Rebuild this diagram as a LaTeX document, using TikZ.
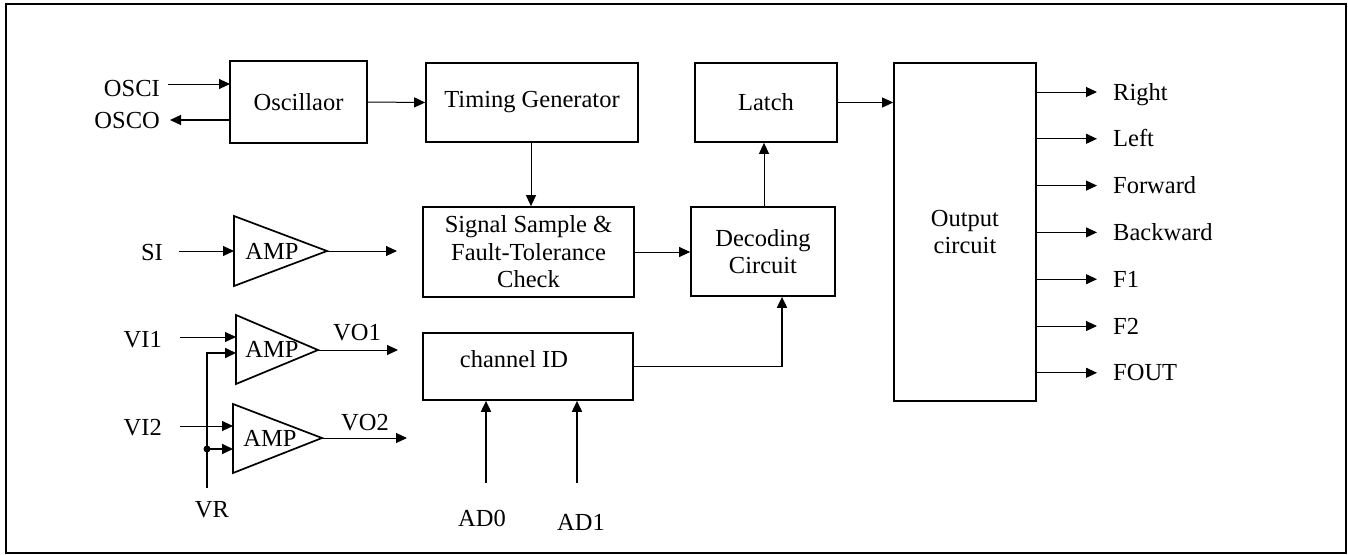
\documentclass[tikz,border=0pt]{standalone}
\usepackage{fontspec}
\setmainfont{Liberation Serif}
\usetikzlibrary{arrows.meta}

\begin{document}
\begin{tikzpicture}[x=1pt,y=-1pt,font=\fontsize{24.5}{27.5}\selectfont,
  blk/.style={draw,line width=1.7pt,inner sep=0pt,align=center},
  lbl/.style={inner sep=0pt,text height=16pt,text depth=0pt},
  wire/.style={-{Triangle[length=11pt,width=10pt]},line width=1pt},
  thk/.style={line width=1.8pt}]
\useasboundingbox (0,0) rectangle (1348,554);
\draw[line width=1.8pt] (6,4) rectangle (1346,553);

% blocks
\node[blk,minimum width=137pt,minimum height=82pt] (osc) at (298.5,102) {Oscillaor};
\node[blk,minimum width=212pt,minimum height=79pt] (tim) at (532,102.5) {Timing Generator};
\node[blk,minimum width=142pt,minimum height=79pt] (latch) at (766,102.5) {Latch};
\node[blk,minimum width=142pt,minimum height=338pt] (out) at (965,232) {Output\\circuit};
\node[blk,minimum width=211pt,minimum height=90pt] (samp) at (528.5,252) {Signal Sample \&\\Fault-Tolerance\\Check};
\node[blk,minimum width=144pt,minimum height=89pt] (dec) at (763,251.5) {Decoding\\Circuit};
\node[blk,minimum width=210pt,minimum height=67pt] (chan) at (528,366.5) {};
\node[lbl] (chantxt) at (514,359) {channel ID};

% amplifiers
\draw[line width=1.7pt] (234,216) -- (327,251) coordinate (a0o) -- (234,286) -- cycle;
\draw[line width=1.7pt] (236,315) -- (318,350) coordinate (a1o) -- (236,384) -- cycle;
\draw[line width=1.7pt] (233,404) -- (322,438) coordinate (a2o) -- (233,473) -- cycle;
\node[lbl] (amp0) at (272,251) {AMP};
\node[lbl] (amp1) at (272,349.5) {AMP};
\node[lbl] (amp2) at (270,438) {AMP};
\coordinate (a0i) at (234,251);
\coordinate (a1i) at (236,337);
\coordinate (a1r) at (236,353);
\coordinate (a2i) at (233,426);
\coordinate (a2r) at (233,449);
\coordinate (a0x) at (397,251);
\coordinate (a1x) at (398,350);
\coordinate (a2x) at (407,438);

% pins
\node[lbl,anchor=east] (osci) at (160,88) {OSCI};
\node[lbl,anchor=east] (osco) at (160,120) {OSCO};
\node[lbl,anchor=east] (si) at (163,252) {SI};
\node[lbl,anchor=east] (vi1) at (162,339) {VI1};
\node[lbl,anchor=east] (vi2) at (162,427) {VI2};
\node[lbl] (vr) at (212,509.5) {VR};
\node[lbl] (vo1) at (357,332.5) {VO1};
\node[lbl] (vo2) at (365,422) {VO2};
\node[lbl] (ad0) at (482,518) {AD0};
\node[lbl] (ad1) at (581,522) {AD1};
\coordinate (oscin) at (230,84);
\coordinate (vrb) at (207,488);
\coordinate (vrj) at (207,449);
\coordinate (ad0b) at (486,483);
\coordinate (ad1b) at (577,483);

% connectors
\draw[wire,shorten <=8pt] (osci.east |- oscin) -- (oscin);
\draw[wire,line width=1.3pt] (osc.west |- osco) -- ([xshift=10pt]osco.east);
\draw[wire] (osc.east) -- (tim.west);
\draw[wire] ([xshift=-1pt]tim.south) -- ([xshift=-1pt]tim.south |- samp.north);
\draw[wire] (latch.east) -- (latch.east -| out.west);
\draw[wire] ([xshift=1pt]dec.north) -- ([xshift=1pt]dec.north |- latch.south);
\draw[wire] (samp.east) -- (samp.east -| dec.west);
\draw[wire,thk] (chan.east) -| ([xshift=19pt]dec.south);
\draw[wire,shorten <=16pt] (si.east |- a0i) -- (a0i);
\draw[wire] (a0o) -- (a0x);
\draw[wire,shorten <=18pt] (vi1.east |- a1i) -- (a1i);
\draw[wire,shorten <=18pt] (vi2.east |- a2i) -- (a2i);
\draw[wire,thk] (vrb) |- (a1r);
\draw[wire,thk] (vrj) -- (a2r);
\fill (vrj) circle (3.5pt);
\draw[wire] (a1o) -- (a1x);
\draw[wire] (a2o) -- (a2x);
\draw[wire,thk] (ad0b) -- (ad0b |- chan.south);
\draw[wire,thk] (ad1b) -- (ad1b |- chan.south);

% outputs
\foreach \txt [count=\i] in {Right,Left,Forward,Backward,F1,F2,FOUT} {
  \node[lbl,anchor=west] (o\i) at (1113,{92+(\i-1)*46.8}) {\txt};
  \draw[wire,shorten >=16pt] (out.east |- o\i) -- (o\i.west);
}
\end{tikzpicture}
\end{document}
